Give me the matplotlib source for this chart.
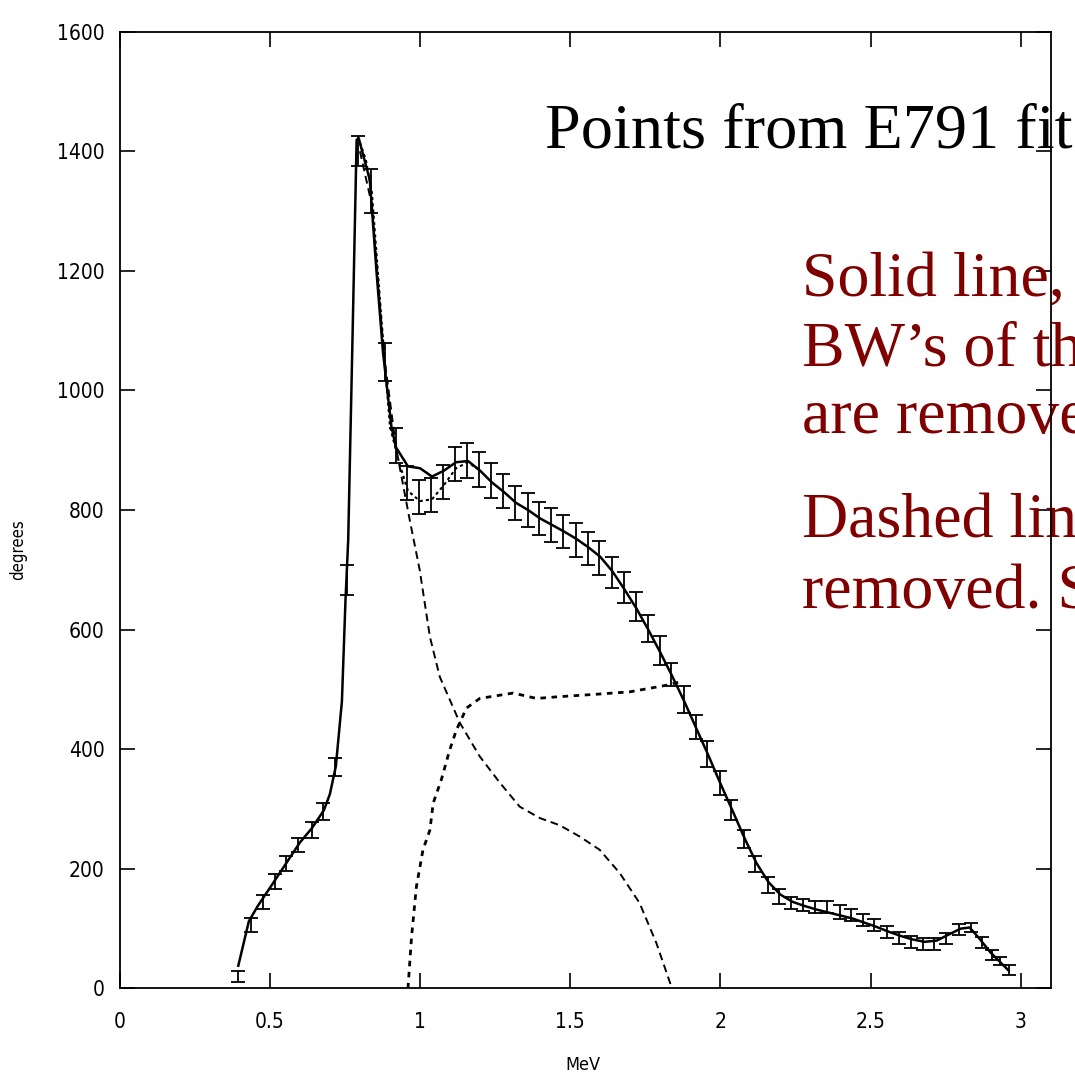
import numpy as np
import matplotlib
matplotlib.use('Agg')
import matplotlib.pyplot as plt

# Data points (E791 fit) #
mev = [0.393, 0.436, 0.478, 0.517, 0.555, 0.594, 0.639, 0.678, 0.716, 0.756,
       0.794, 0.838, 0.883, 0.919, 0.957, 0.997, 1.038, 1.077, 1.118, 1.157,
       1.197, 1.238, 1.277, 1.318, 1.358, 1.397, 1.436, 1.477, 1.518, 1.558,
       1.597, 1.640, 1.680, 1.720, 1.760, 1.799, 1.837, 1.878, 1.918, 1.956,
       1.998, 2.037, 2.080, 2.116, 2.158, 2.195, 2.236, 2.275, 2.314, 2.356,
       2.397, 2.436, 2.475, 2.513, 2.555, 2.594, 2.635, 2.675, 2.712, 2.750,
       2.795, 2.833, 2.870, 2.905, 2.930, 2.960]
deg = [20, 106, 145, 179, 209, 240, 265, 296, 371, 683,
       1400, 1334, 1048, 908, 845, 822, 825, 847, 877, 883,
       868, 849, 832, 812, 800, 786, 775, 764, 750, 736,
       720, 696, 670, 639, 602, 565, 525, 483, 437, 392,
       344, 298, 250, 208, 173, 154, 143, 140, 136, 136,
       128, 123, 114, 106, 95, 85, 78, 74, 75, 84,
       98, 102, 77, 56, 46, 31]
err = [10, 12, 12, 12, 12, 12, 14, 14, 15, 25,
       25, 37, 32, 29, 29, 29, 29, 29, 29, 29,
       29, 29, 29, 29, 28, 28, 28, 28, 28, 28,
       28, 26, 26, 24, 23, 24, 20, 22, 20, 21,
       20, 17, 15, 14, 13, 12, 10, 10, 10, 10,
       11, 10, 10, 10, 10, 10, 10, 10, 10, 9,
       9, 8, 9, 8, 7, 8]

# Solid line #
solid_x = [0.395, 0.43, 0.46, 0.50, 0.55, 0.60, 0.64, 0.68, 0.70, 0.72, 0.74, 0.752,
           0.761, 0.775, 0.789, 0.796, 0.81, 0.833, 0.855, 0.877, 0.905, 0.92, 0.96,
           1.00, 1.04, 1.08, 1.12, 1.16, 1.20, 1.24, 1.28, 1.32, 1.36, 1.40, 1.44,
           1.48, 1.52, 1.56, 1.60, 1.64, 1.68, 1.72, 1.76, 1.80, 1.84, 1.88, 1.92,
           1.96, 2.00, 2.04, 2.08, 2.12, 2.16, 2.20, 2.24, 2.28, 2.32, 2.36, 2.40,
           2.44, 2.48, 2.52, 2.56, 2.60, 2.64, 2.68, 2.72, 2.76, 2.80, 2.83, 2.86,
           2.90, 2.93, 2.96]
solid_y = [38, 112, 138, 168, 206, 244, 268, 298, 325, 372, 480, 650,
           750, 1080, 1419, 1422, 1395, 1352, 1200, 1063, 939, 905, 873,
           870, 856, 866, 880, 882, 866, 846, 830, 812, 800, 786, 775,
           764, 752, 738, 722, 698, 668, 636, 600, 562, 522, 480, 435,
           390, 343, 298, 252, 210, 178, 157, 145, 138, 132, 127, 122,
           117, 110, 103, 95, 88, 82, 78, 80, 90, 100, 102, 85,
           60, 45, 30]

# Dotted fit following the points #
fit_x = [0.80, 0.82, 0.84, 0.87, 0.90, 0.93, 0.96, 1.00, 1.04, 1.08, 1.12, 1.16, 1.20]
fit_y = [1415, 1385, 1330, 1130, 940, 880, 832, 815, 818, 842, 870, 880, 866]

# Dashed line (falling) #
dash_x = [0.80, 0.84, 0.88, 0.92, 0.966, 0.999, 1.033, 1.066, 1.133, 1.199, 1.266,
          1.332, 1.399, 1.465, 1.532, 1.598, 1.665, 1.731, 1.787, 1.837]
dash_y = [1400, 1310, 1060, 905, 783, 700, 588, 521, 444, 388, 344,
          304, 285, 273, 254, 232, 193, 143, 76, 3]

# Dotted line (rising) #
rise_x = [0.96, 0.972, 0.988, 1.01, 1.033, 1.044, 1.071, 1.099, 1.121, 1.155, 1.199,
          1.31, 1.388, 1.465, 1.587, 1.698, 1.82, 1.86]
rise_y = [0, 87, 170, 232, 265, 310, 349, 399, 432, 469, 485,
          494, 485, 488, 492, 496, 507, 512]

narrow = ['DejaVu Sans']

fig = plt.figure(figsize=(10.75, 10.77), dpi=100)
ax = fig.add_axes([0.1113, 0.0822, 0.8661, 0.8884])

ax.plot(solid_x, solid_y, 'k-', lw=1.8, zorder=4)
ax.plot(fit_x, fit_y, color='k', ls=(0, (1.5, 1.5)), lw=1.5, zorder=4)
ax.plot(dash_x, dash_y, color='k', ls=(0, (4, 2.5)), lw=1.4, zorder=3)
ax.plot(rise_x, rise_y, color='k', ls=(0, (2, 2)), lw=2.0, zorder=3)
ax.errorbar(mev, deg, yerr=err, fmt='none', ecolor='k', elinewidth=1.3,
            capsize=5, capthick=1.3, zorder=5)

ax.set_xlim(0, 3.1)
ax.set_ylim(0, 1600)
ax.set_xticks(np.arange(0, 3.01, 0.5))
ax.set_xticklabels(['0', '0.5', '1', '1.5', '2', '2.5', '3'])
ax.set_yticks(np.arange(0, 1601, 200))
ax.tick_params(direction='in', length=11, width=1.2, top=True, right=True)
ax.tick_params(axis='x', pad=17)
ax.tick_params(axis='y', pad=11)
for lab in ax.get_xticklabels() + ax.get_yticklabels():
    lab.set_fontfamily(narrow)
    lab.set_fontstretch('condensed')
    lab.set_fontsize(15)
for sp in ax.spines.values():
    sp.set_linewidth(1.3)

ax.set_xlabel('MeV', fontsize=13, family=narrow, stretch='condensed')
ax.xaxis.set_label_coords((583 - 119.7) / 931, -(1056 - 988.5) / 956.8)
ax.set_ylabel('degrees', fontsize=12, family=narrow, stretch='condensed')
ax.yaxis.set_label_coords(-(119.7 - 27) / 931, (988.5 - 550) / 956.8)

# Slide text overlay #
serif = ['Liberation Serif', 'DejaVu Serif']
ax.text(545 / 1075, 1 - 148 / 1077, 'Points from E791 fit', transform=fig.transFigure,
        fontsize=46.3, family=serif, color='black', ha='left', va='baseline',
        clip_on=False, zorder=2)
red = '#800000'
lines = [('Solid line,', 296), ('BW\u2019s of th', 365), ('are remove', 433),
         ('Dashed lin', 538), ('removed. S', 608)]
for txt, base in lines:
    ax.text(802 / 1075, 1 - base / 1077, txt, transform=fig.transFigure,
            fontsize=46, family=serif, color=red, ha='left', va='baseline',
            clip_on=False, zorder=2)

plt.savefig('out.png', dpi=100)
